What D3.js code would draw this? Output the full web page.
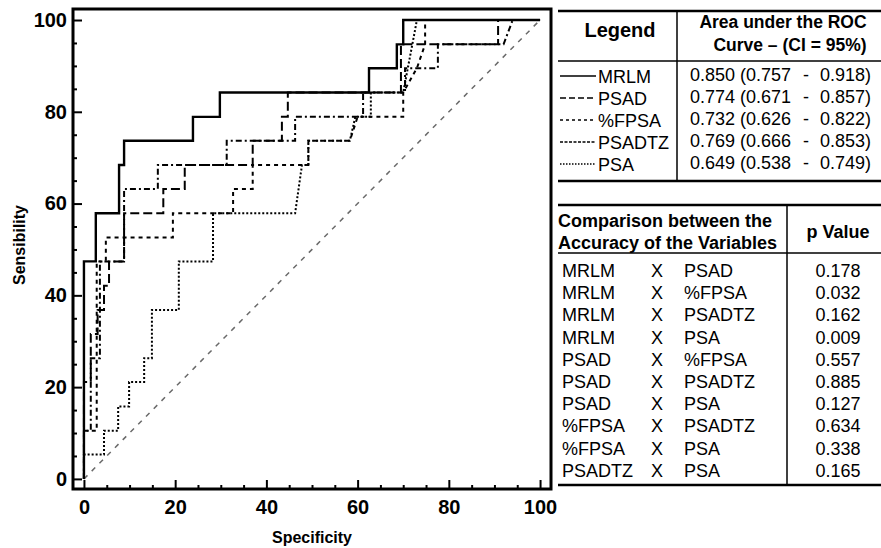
<!DOCTYPE html>
<html>
<head>
<meta charset="utf-8">
<script src="https://cdn.jsdelivr.net/npm/d3@7"></script>
<style>
  html, body { margin: 0; padding: 0; background: #fff; }
  svg { display: block; font-family: "Liberation Sans", Arial, sans-serif; }
</style>
</head>
<body>
<svg id="chart" width="881" height="548"></svg>
<script>
// ROC curves, points are [100 - specificity, sensibility]
const curveNames = ['MRLM', 'PSAD', '%FPSA', 'PSADTZ', 'PSA'];

const mrlmPoints = [[0,0],[0,47.4],[2.6,47.4],[2.6,57.9],[7.7,57.9],[7.7,68.4],[8.8,68.4],[8.8,73.7],
  [23.9,73.7],[23.9,78.9],[29.8,78.9],[29.8,84.2],[62.5,84.2],[62.5,89.5],[68.6,89.5],[68.6,94.7],
  [70,94.7],[70,100],[100,100]];

const psadPoints = [[0,0],[0,21.1],[1.5,21.1],[1.5,31.6],[3.0,31.6],[3.0,36.8],[4.4,36.8],[4.4,42.1],
  [5.5,42.1],[5.5,47.4],[8.8,47.4],[8.8,57.9],[17.4,57.9],[17.4,63.2],[22.1,63.2],[22.1,68.4],
  [37.0,68.4],[37.0,73.7],[43.4,73.7],[43.4,78.9],[44.7,78.9],[44.7,84.2],[69.5,84.2],[69.5,94.7],
  [90.8,94.7],[90.8,100],[100,100]];

const fpsaPoints = [[0,0],[0,10.5],[2.8,10.5],[2.8,47.4],[4.8,47.4],[4.8,52.6],[19.5,52.6],[19.5,57.9],
  [32.7,57.9],[32.7,63.2],[37.0,63.2],[37.0,68.4],[49.2,68.4],[49.2,73.7],[58.3,73.7],[60.0,78.9],
  [70.0,78.9],[70.0,84.2],[73.0,89.5],[74.8,94.7],[74.8,100],[100,100]];

const psadtzPoints = [[0,0],[0,10.5],[1.5,10.5],[1.5,26.3],[3.5,26.3],[3.5,47.4],[8.8,47.4],[8.8,63.2],
  [16.2,63.2],[16.2,68.4],[31.3,68.4],[31.3,73.7],[46.3,73.7],[46.3,78.9],[61.2,78.9],[61.2,84.2],
  [70.4,84.2],[70.4,89.5],[77.6,89.5],[77.6,94.7],[92.0,94.7],[94.0,100],[100,100]];

const psaPoints = [[0,0],[0,5.3],[4.4,5.3],[4.4,10.5],[7.5,10.5],[7.5,15.8],[9.9,15.8],[9.9,21.1],
  [13.2,21.1],[13.2,26.3],[14.9,26.3],[14.9,36.8],[20.8,36.8],[20.8,47.4],[28.3,47.4],[28.3,57.9],
  [46.3,57.9],[47.8,68.4],[49.2,68.4],[49.2,73.7],[58.3,73.7],[59.5,78.9],[62.9,78.9],[62.9,84.2],
  [70.0,84.2],[71.0,89.5],[72.0,94.7],[73.0,100],[100,100]];

const xTicks = [0, 20, 40, 60, 80, 100];
const yTicks = [0, 20, 40, 60, 80, 100];

// AUC table
const aucValues = ['0.850', '0.774', '0.732', '0.769', '0.649'];
const ciLow = ['0.757', '0.671', '0.626', '0.666', '0.538'];
const ciHigh = ['0.918', '0.857', '0.822', '0.853', '0.749'];

// comparison table
const compLeft = ['MRLM','MRLM','MRLM','MRLM','PSAD','PSAD','PSAD','%FPSA','%FPSA','PSADTZ'];
const compRight = ['PSAD','%FPSA','PSADTZ','PSA','%FPSA','PSADTZ','PSA','PSADTZ','PSA','PSA'];
const pValues = ['0.178','0.032','0.162','0.009','0.557','0.885','0.127','0.634','0.338','0.165'];

const curveData = [mrlmPoints, psadPoints, fpsaPoints, psadtzPoints, psaPoints];
// line style in the plot and in the legend sample
const plotDash = [null, '9,4', '4,4', '6,3,2,3', '2,2'];
const plotWidth = [2.4, 2, 2, 2, 2];
const keyDash = [null, '6,3', '3,3', '3,1.5', '1.5,1.5'];

const svg = d3.select('#chart');
const frame = { left: 73, right: 551, top: 9, bottom: 489 };

const x = d3.scaleLinear().domain([-2.4, 102.4]).range([frame.left, frame.right]);
const y = d3.scaleLinear().domain([-2.2, 102.4]).range([frame.bottom, frame.top]);

// diagonal reference
svg.append('line')
  .attr('x1', x(0)).attr('y1', y(0)).attr('x2', x(100)).attr('y2', y(100))
  .attr('stroke', '#6a6a6a').attr('stroke-width', 1.5).attr('stroke-dasharray', '5,6');

const line = d3.line().x(d => x(d[0])).y(d => y(d[1]));

// draw dotted ones first so the solid stays on top
[4, 3, 2, 1, 0].forEach(i => {
  svg.append('path')
    .datum(curveData[i])
    .attr('d', line)
    .attr('fill', 'none')
    .attr('stroke', '#000')
    .attr('stroke-width', plotWidth[i])
    .attr('stroke-dasharray', plotDash[i]);
});

// axes: ticks point inward
const minor = d3.range(0, 101, 5).filter(v => v % 20 !== 0);

const xAxis = svg.append('g').attr('transform', `translate(0,${frame.bottom})`)
  .call(d3.axisBottom(x).tickValues(xTicks).tickSize(-9).tickPadding(11).tickFormat(d3.format('d')));
const xMinor = svg.append('g').attr('transform', `translate(0,${frame.bottom})`)
  .call(d3.axisBottom(x).tickValues(minor).tickSize(-4).tickFormat(''));
const yAxis = svg.append('g').attr('transform', `translate(${frame.left},0)`)
  .call(d3.axisLeft(y).tickValues(yTicks).tickSize(-9).tickPadding(6).tickFormat(d3.format('d')));
const yMinor = svg.append('g').attr('transform', `translate(${frame.left},0)`)
  .call(d3.axisLeft(y).tickValues(minor).tickSize(-4).tickFormat(''));

[xAxis, xMinor, yAxis, yMinor].forEach(g => {
  g.select('.domain').remove();
  g.selectAll('line').attr('stroke', '#000').attr('stroke-width', 2);
  g.selectAll('text').attr('fill', '#000').attr('font-size', 20).attr('font-weight', 'bold')
    .attr('font-family', '"Liberation Sans", Arial, sans-serif');
});

svg.append('rect')
  .attr('x', frame.left).attr('y', frame.top)
  .attr('width', frame.right - frame.left).attr('height', frame.bottom - frame.top)
  .attr('fill', 'none').attr('stroke', '#000').attr('stroke-width', 3);

svg.append('text')
  .attr('x', x(50)).attr('y', 543)
  .attr('text-anchor', 'middle').attr('font-size', 16).attr('font-weight', 'bold')
  .text('Specificity');

svg.append('text')
  .attr('transform', 'translate(25,245) rotate(-90)')
  .attr('text-anchor', 'middle').attr('font-size', 16).attr('font-weight', 'bold')
  .text('Sensibility');

// ---- table 1: legend + AUC
const tLeft = 558, tRight = 881;
const t1 = svg.append('g');

function rule(g, y0, w) {
  g.append('line').attr('x1', tLeft).attr('x2', tRight).attr('y1', y0).attr('y2', y0)
    .attr('stroke', '#000').attr('stroke-width', w);
}

rule(t1, 11, 2.5);
rule(t1, 61, 1.5);
rule(t1, 181, 2.5);
t1.append('line').attr('x1', 677).attr('x2', 677).attr('y1', 11).attr('y2', 181)
  .attr('stroke', '#000').attr('stroke-width', 1.5);

t1.append('text').attr('x', 620).attr('y', 37).attr('text-anchor', 'middle')
  .attr('font-size', 20).attr('font-weight', 'bold').text('Legend');
t1.append('text').attr('x', 783).attr('y', 28).attr('text-anchor', 'middle')
  .attr('font-size', 17.5).attr('font-weight', 'bold').text('Area under the ROC');
t1.append('text').attr('x', 790).attr('y', 51).attr('text-anchor', 'middle')
  .attr('font-size', 17.5).attr('font-weight', 'bold').text('Curve \u2013 (CI = 95%)');

curveNames.forEach((name, i) => {
  const base = 83 + i * 22;
  t1.append('line').attr('x1', 560).attr('x2', 596).attr('y1', base - 7).attr('y2', base - 7)
    .attr('stroke', '#000').attr('stroke-width', 1.6).attr('stroke-dasharray', keyDash[i]);
  t1.append('text').attr('x', 598).attr('y', base).attr('font-size', 18).text(name);
  t1.append('text').attr('x', 690).attr('y', base - 2).attr('font-size', 18)
    .text(`${aucValues[i]} (${ciLow[i]}`);
  t1.append('text').attr('x', 806).attr('y', base - 2).attr('font-size', 18)
    .attr('text-anchor', 'middle').text('-');
  t1.append('text').attr('x', 871).attr('y', base - 2).attr('font-size', 18)
    .attr('text-anchor', 'end').text(`${ciHigh[i]})`);
});

// ---- table 2: comparisons
const t2 = svg.append('g');
rule(t2, 205, 2.5);
rule(t2, 253, 1.5);
rule(t2, 485, 2.5);
t2.append('line').attr('x1', 787).attr('x2', 787).attr('y1', 205).attr('y2', 485)
  .attr('stroke', '#000').attr('stroke-width', 1.5);

t2.append('text').attr('x', 558).attr('y', 227).attr('font-size', 18).attr('font-weight', 'bold')
  .text('Comparison between the');
t2.append('text').attr('x', 558).attr('y', 249).attr('font-size', 18).attr('font-weight', 'bold')
  .text('Accuracy of the Variables');
t2.append('text').attr('x', 838).attr('y', 238).attr('text-anchor', 'middle')
  .attr('font-size', 18).attr('font-weight', 'bold').text('p Value');

pValues.forEach((p, i) => {
  const base = 277 + i * 22.2;
  t2.append('text').attr('x', 562).attr('y', base).attr('font-size', 18).text(compLeft[i]);
  t2.append('text').attr('x', 657).attr('y', base).attr('font-size', 18)
    .attr('text-anchor', 'middle').text('X');
  t2.append('text').attr('x', 684).attr('y', base).attr('font-size', 18).text(compRight[i]);
  t2.append('text').attr('x', 838).attr('y', base).attr('font-size', 18)
    .attr('text-anchor', 'middle').text(p);
});
</script>
</body>
</html>
